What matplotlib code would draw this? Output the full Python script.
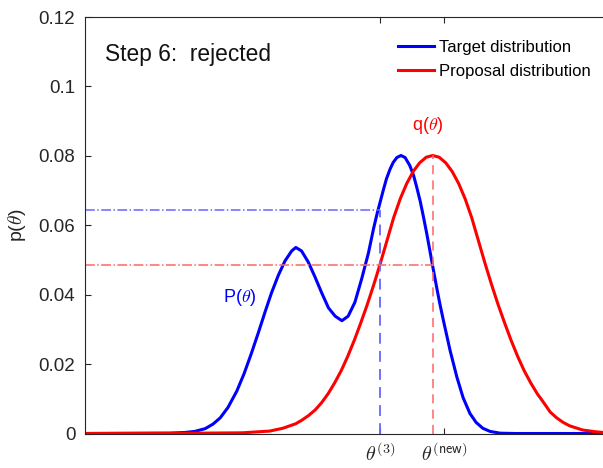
import numpy as np
import matplotlib
matplotlib.use("Agg")
import matplotlib.pyplot as plt

plt.rcParams['font.family'] = ['Liberation Sans', 'DejaVu Sans']
plt.rcParams['mathtext.fontset'] = 'cm'

# values (theta in plot units, 0..10)
theta_target = [0.0, 1.64, 1.93, 2.12, 2.32, 2.47, 2.61, 2.76, 2.93, 3.07, 3.21,
                3.35, 3.48, 3.60, 3.73, 3.86, 3.99, 4.07, 4.18, 4.31, 4.44,
                4.57, 4.70, 4.83, 4.96, 5.08, 5.21, 5.34, 5.47, 5.57, 5.64,
                5.70, 5.76, 5.82, 5.89, 5.95, 6.02, 6.10, 6.18, 6.27, 6.34,
                6.40, 6.47, 6.53, 6.60, 6.66, 6.72, 6.79, 6.85, 6.92, 7.05,
                7.18, 7.30, 7.43, 7.55, 7.68, 7.82, 8.01, 8.30, 10.0]
p_target = [0.0, 0.0001, 0.0003, 0.0006, 0.0014, 0.0027, 0.0045, 0.0075, 0.0122,
            0.0172, 0.0230, 0.0292, 0.0352, 0.0405, 0.0455, 0.0497, 0.0526,
            0.0536, 0.0526, 0.0494, 0.0451, 0.0405, 0.0362, 0.0338, 0.0325,
            0.0338, 0.0378, 0.0445, 0.0519, 0.0590, 0.0634, 0.0668, 0.0702,
            0.0734, 0.0762, 0.0781, 0.0795, 0.0801, 0.0795, 0.0772, 0.0745,
            0.0712, 0.0670, 0.0627, 0.0574, 0.0525, 0.0476, 0.0420, 0.0374,
            0.0325, 0.0238, 0.0162, 0.0103, 0.0058, 0.0032, 0.0015, 0.0006,
            0.0001, 0.0, 0.0]

theta_prop = [0.0, 2.22, 3.04, 3.565, 3.816, 4.067, 4.193, 4.318, 4.444, 4.569,
              4.695, 4.820, 4.946, 5.071, 5.197, 5.322, 5.448, 5.573, 5.695,
              5.834, 5.959, 6.085, 6.210, 6.336, 6.461, 6.587, 6.712, 6.837,
              6.963, 7.088, 7.214, 7.339, 7.465, 7.590, 7.729, 7.851, 7.976,
              8.102, 8.227, 8.353, 8.478, 8.604, 8.729, 8.855, 8.980, 9.106,
              9.231, 9.357, 9.608, 9.859, 10.0]
p_prop = [0.0, 0.0001, 0.0002, 0.0007, 0.0015, 0.0028, 0.0039, 0.0052, 0.0068,
          0.0089, 0.0115, 0.0146, 0.0181, 0.0222, 0.0268, 0.0318, 0.0371,
          0.0428, 0.0487, 0.0558, 0.0622, 0.0676, 0.0720, 0.0755, 0.0780,
          0.0796, 0.0801, 0.0796, 0.0780, 0.0755, 0.0720, 0.0676, 0.0622,
          0.0558, 0.0487, 0.0428, 0.0371, 0.0318, 0.0268, 0.0222, 0.0181,
          0.0146, 0.0115, 0.0089, 0.0062, 0.0045, 0.0032, 0.0022, 0.0010,
          0.0005, 0.0003]

theta_old = 5.69      # theta^(3)
p_old = 0.0643
theta_q = 6.71        # proposal peak
q_peak = 0.0801
q_level = 0.0485
theta_new = 6.93
tick_labels = [r'$\theta^{\mathsf{(3)}}$', r'$\theta^{\mathsf{(new)}}$']

fig = plt.figure(figsize=(6.03, 4.68), dpi=100)
ax = fig.add_axes([85/603, 34.5/468, 518/603, 416.5/468])

ax.plot(theta_target, p_target, color='blue', lw=2.2, solid_joinstyle='round',
        label='Target distribution')
ax.plot(theta_prop, p_prop, color='red', lw=2.2, solid_joinstyle='round',
        label='Proposal distribution')

# guide lines
ax.plot([0, theta_old], [p_old, p_old], color=(0.4, 0.4, 1), lw=1.1, ls='-.')
ax.plot([theta_old, theta_old], [0, p_old], color=(0.4, 0.4, 1), lw=1.3, ls=(0, (6, 4)))
ax.plot([0, theta_q], [q_level, q_level], color=(1, 0.4, 0.4), lw=1.1, ls='-.')
ax.plot([theta_q, theta_q], [0, q_peak], color=(1, 0.4, 0.4), lw=1.1, ls=(0, (6, 4)))

ax.text(0.39, 0.1092, 'Step 6:  rejected', fontsize=16.4, va='center', color='#111111')
ax.text(6.62, 0.0888, r'q($\theta$)', fontsize=13, color='red', ha='center', va='center')
ax.text(2.98, 0.0391, r'P($\theta$)', fontsize=13, color='blue', ha='center', va='center')

ax.set_xlim(0, 10)
ax.set_ylim(0, 0.12)
ax.set_yticks([0, 0.02, 0.04, 0.06, 0.08, 0.1, 0.12])
ax.set_yticklabels(['0', '0.02', '0.04', '0.06', '0.08', '0.1', '0.12'])
ax.set_xticks([theta_old, theta_new])
ax.set_xticklabels(tick_labels)
ax.set_ylabel(r'p($\theta$)', fontsize=14, color='#262626')
ax.yaxis.set_label_coords(-0.11, 0.5)

ax.tick_params(axis='both', direction='in', length=4, width=0.8,
               colors='#262626', labelsize=13.5)
ax.tick_params(axis='y', pad=7)
ax.tick_params(axis='x', top=True, pad=6, labelsize=14.5)
ax.spines['right'].set_visible(False)
for s in ['left', 'bottom', 'top']:
    ax.spines[s].set_color('#262626')
    ax.spines[s].set_linewidth(0.8)

ax.legend(loc='upper left', bbox_to_anchor=(0.604, 0.944), frameon=False,
          fontsize=12, handlelength=2.15, handletextpad=0.3,
          labelspacing=0.53, borderpad=0, borderaxespad=0)

fig.savefig('out.png', dpi=100)
